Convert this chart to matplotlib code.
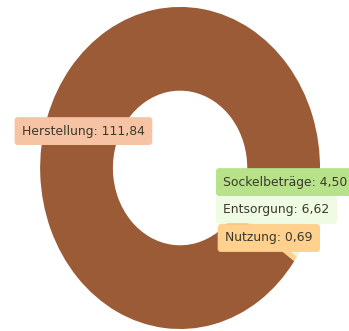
import matplotlib
matplotlib.use("Agg")
import matplotlib.pyplot as plt

# data
labels = ["Sockelbeträge", "Entsorgung", "Nutzung", "Herstellung"]
values = [4.50, 6.62, 0.69, 111.84]
colors = ["#b7e28a", "#e9f9d6", "#ffd08e", "#9b5b37"]
label_bg = {"Herstellung": "#f6c3a5", "Sockelbeträge": "#b7e28a",
            "Entsorgung": "#effbe2", "Nutzung": "#ffd08e"}
# label anchor (figure fraction, left x / centre y)
label_pos = {"Herstellung": (0.063, 0.604), "Sockelbeträge": (0.640, 0.450),
             "Entsorgung": (0.640, 0.366), "Nutzung": (0.645, 0.281)}
label_z = {"Herstellung": 3, "Sockelbeträge": 5, "Entsorgung": 4, "Nutzung": 3}

plt.rcParams['font.family'] = ['DejaVu Sans']

fig = plt.figure(figsize=(3.49, 3.31), dpi=100)
ax = fig.add_axes([0.115, 0.006, 0.802, 0.973])
ax.pie(values, colors=colors, startangle=-1, counterclock=False, radius=1,
       wedgeprops=dict(width=0.52, linewidth=0))
ax.set_xlim(-1, 1)
ax.set_ylim(-1, 1)
ax.set_aspect('auto')
ax.axis('off')

def fmt(v):
    return f"{v:.2f}".replace(".", ",")

for lab, v in zip(labels, values):
    x, y = label_pos[lab]
    fig.text(x, y, f"{lab}: {fmt(v)}", ha='left', va='center', fontsize=8.9,
             color='#3a3a2a', zorder=label_z[lab],
             bbox=dict(boxstyle='round,pad=0.6,rounding_size=0.25',
                       fc=label_bg[lab], ec='none'))

fig.savefig("out.png", dpi=100)
